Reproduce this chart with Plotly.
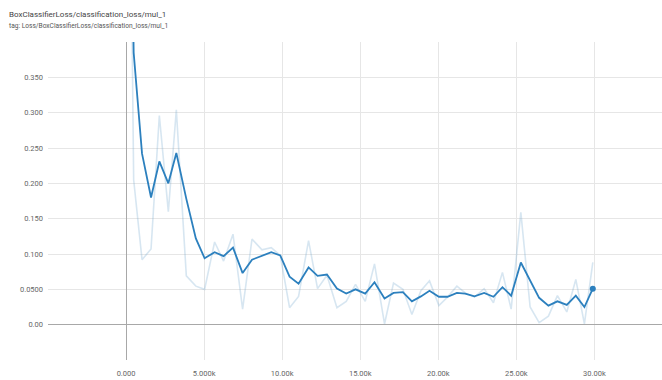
import plotly.graph_objects as go

# Training steps at which the scalar was logged
steps = [0, 487, 1024, 1600, 2132, 2708, 3220, 3860, 4470, 5032,
         5672, 6248, 6850, 7465, 8067, 8707, 9302, 9878, 10474, 11050,
         11690, 12266, 12868, 13508, 14104, 14699, 15320, 15915, 16555, 17132,
         17733, 18310, 18886, 19437, 20038, 20589, 21191, 21722, 22318, 22938,
         23534, 24110, 24667, 25288, 25883, 26459, 27055, 27631, 28232, 28809,
         29360, 29898]

# Raw logged loss values
raw_loss = [1.20, 0.205, 0.092, 0.107, 0.296, 0.160, 0.304, 0.069, 0.0545, 0.050,
            0.117, 0.090, 0.128, 0.022, 0.121, 0.106, 0.109, 0.098, 0.024, 0.040,
            0.119, 0.051, 0.070, 0.024, 0.033, 0.057, 0.033, 0.086, 0.001, 0.059,
            0.050, 0.0145, 0.048, 0.062, 0.027, 0.039, 0.0545, 0.045, 0.039, 0.051,
            0.031, 0.074, 0.022, 0.159, 0.025, 0.003, 0.012, 0.041, 0.018, 0.064,
            0.001, 0.088]

# Smoothed loss values
smooth_loss = [1.20, 0.385, 0.242, 0.180, 0.231, 0.200, 0.243, 0.178, 0.122, 0.094,
               0.1025, 0.097, 0.109, 0.073, 0.092, 0.098, 0.1025, 0.098, 0.068, 0.058,
               0.081, 0.069, 0.071, 0.051, 0.044, 0.050, 0.044, 0.060, 0.037, 0.045,
               0.046, 0.033, 0.040, 0.048, 0.0395, 0.0395, 0.045, 0.044, 0.040, 0.045,
               0.0395, 0.053, 0.041, 0.088, 0.062, 0.038, 0.027, 0.033, 0.028, 0.041,
               0.025, 0.051]

x_tickvals = [-5000, 0, 5000, 10000, 15000, 20000, 25000, 30000]
x_ticktext = ["", "0.000", "5.000k", "10.00k", "15.00k", "20.00k", "25.00k", "30.00k"]
y_tickvals = [-0.05, 0.0, 0.05, 0.10, 0.15, 0.20, 0.25, 0.30, 0.35, 0.40]
y_ticktext = ["", "0.00", "0.0500", "0.100", "0.150", "0.200", "0.250", "0.300", "0.350", ""]

title_text = "BoxClassifierLoss/classification_loss/mul_1"
tag_text = "tag: Loss/BoxClassifierLoss/classification_loss/mul_1"

FONT = "Liberation Sans Narrow, Roboto, Arial, sans-serif"
DARK = "rgb(44,128,190)"
LIGHT = "rgba(110,165,205,0.28)"

fig = go.Figure()
fig.add_trace(go.Scatter(x=steps, y=raw_loss, mode="lines",
                         line=dict(color=LIGHT, width=1.6), hoverinfo="skip"))
fig.add_trace(go.Scatter(x=steps, y=smooth_loss, mode="lines",
                         line=dict(color=DARK, width=1.8)))
fig.add_trace(go.Scatter(x=steps[-1:], y=smooth_loss[-1:], mode="markers",
                         marker=dict(color=DARK, size=6)))

W, H = 662, 380
ML, MR, MT, MB = 48, 0, 42, 20
ph = H - MT - MB

fig.update_layout(
    width=W, height=H,
    margin=dict(l=ML, r=MR, t=MT, b=MB),
    paper_bgcolor="white", plot_bgcolor="white",
    showlegend=False,
    font=dict(family=FONT, color="#666", size=8),
    xaxis=dict(range=[-5000, 34330], tickvals=x_tickvals, ticktext=x_ticktext,
               showgrid=True, gridcolor="#e6e6e6", gridwidth=1,
               zeroline=True, zerolinecolor="#a8a8a8", zerolinewidth=1.3,
               showline=False, ticks="", ticklabelstandoff=7,
               tickfont=dict(family=FONT, size=7.5, color="#666")),
    yaxis=dict(range=[-0.05, 0.40], tickvals=y_tickvals, ticktext=y_ticktext,
               showgrid=True, gridcolor="#e6e6e6", gridwidth=1,
               zeroline=True, zerolinecolor="#a8a8a8", zerolinewidth=1.3,
               showline=False, ticks="", ticklabelstandoff=4,
               tickfont=dict(family=FONT, size=7.5, color="#666")),
    annotations=[
        dict(text=title_text, xref="paper", yref="paper",
             x=(7 - ML) / (W - ML - MR), y=(H - MB - 14) / ph,
             xanchor="left", yanchor="middle", showarrow=False,
             font=dict(family=FONT, size=8, color="#444")),
        dict(text=tag_text, xref="paper", yref="paper",
             x=(7 - ML) / (W - ML - MR), y=(H - MB - 26) / ph,
             xanchor="left", yanchor="middle", showarrow=False,
             font=dict(family=FONT, size=6.6, color="#555")),
    ],
)

fig.write_html("out.html")
